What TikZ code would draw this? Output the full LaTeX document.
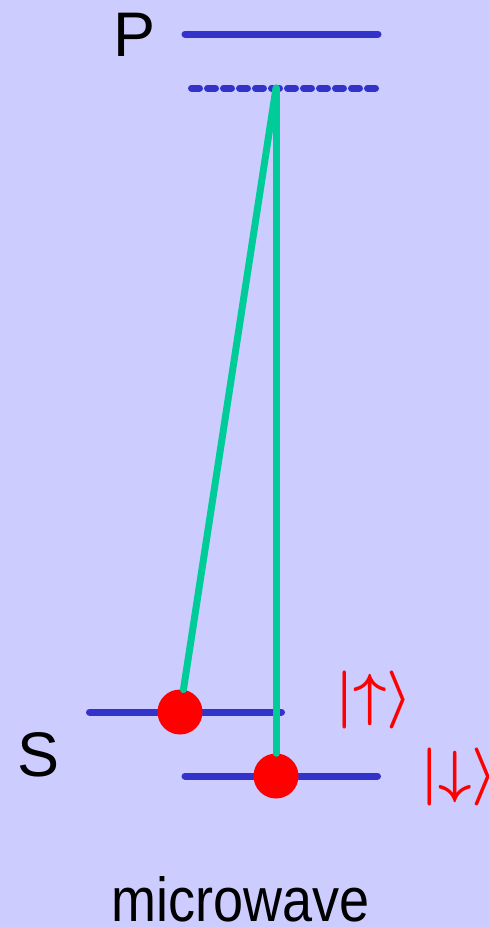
\RequirePackage{fix-cm}
\documentclass[tikz,border=0pt]{standalone}
\usepackage{fontspec}
\setmainfont{Liberation Sans}
\usepackage{tikz}
\usetikzlibrary{positioning}
\definecolor{bgcol}{HTML}{CCCCFF}
\definecolor{levelcol}{HTML}{3333CC}
\definecolor{beamcol}{HTML}{00CC99}
\begin{document}
\begin{tikzpicture}[
    x=1pt, y=-1pt,
    level/.style={draw=levelcol, line width=7pt, line cap=round},
    virtual/.style={level, dash pattern=on 8pt off 8pt},
    ion/.style={circle, fill=red, minimum size=45pt, inner sep=0pt},
    beam/.style={draw=beamcol, line width=7pt, line cap=round},
    lbl/.style={inner sep=0pt, anchor=base, font=\fontsize{63}{70}\selectfont},
    ket/.style={inner sep=0pt, text=red, font=\fontsize{58}{66}\selectfont\boldmath}
]
\fill[bgcol] (0,0) rectangle (489,927);
\useasboundingbox (0,0) rectangle (489,927);

% levels
\draw[level] (185,34) -- (378,34);
\draw[virtual] (191.5,88) -- (375.5,88);
\draw[level] (89.5,712) -- (281.5,712);
\draw[level] (185,776) -- (377.5,776);

\node[lbl] (p) at (135,56) {P};
\node[lbl] (s) at (38.5,776) {S};

% ions and Raman beams
\coordinate (virt) at (276,88);
\node[ion] (up) at (180,712) {};
\node[ion] (down) at (276,776) {};
\draw[beam] (up) -- (virt);
\draw[beam] (down) -- (virt);

\node[ket] (upket) at (374,700) {$|{\uparrow}\rangle$};
\node[ket] (downket) at (459,777) {$|{\downarrow}\rangle$};

\node[inner sep=0pt, anchor=base] (mw) at (241,921)
    {\fontsize{54}{60}\selectfont\scalebox{1}[1.15]{microwave}};
\end{tikzpicture}
\end{document}
